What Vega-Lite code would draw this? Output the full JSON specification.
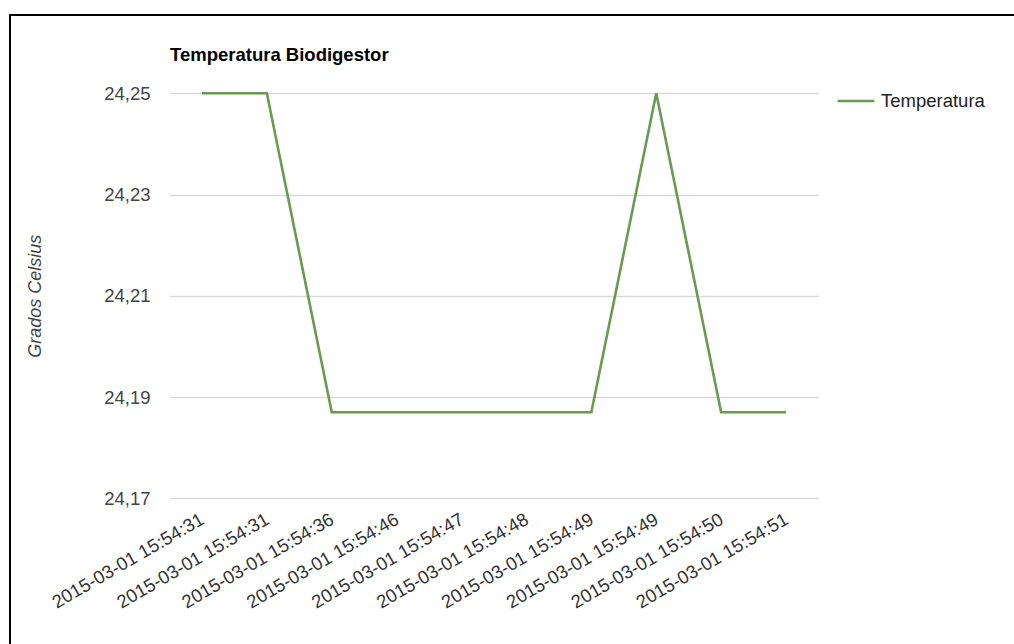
{
  "$schema": "https://vega.github.io/schema/vega-lite/v6.json",
  "width": 1004,
  "height": 629,
  "autosize": {"type": "none"},
  "padding": {"left": 10, "top": 15, "right": 0, "bottom": 0},
  "background": "#ffffff",
  "config": {
    "font": "Liberation Sans",
    "view": {"stroke": "#000000", "strokeWidth": 2, "strokeDash": [1004, 1633, 629]}
  },
  "title": {
    "text": "Temperatura Biodigestor",
    "anchor": "start",
    "frame": "group",
    "fontSize": 18.5,
    "fontWeight": "bold",
    "color": "#000000",
    "offset": 0,
    "baseline": "alphabetic",
    "dx": 160,
    "dy": 64
  },
  "data": {
    "values": [
      {"t": "2015-03-01 15:54:31|a", "v": 24.25, "serie": "Temperatura"},
      {"t": "2015-03-01 15:54:31|b", "v": 24.25, "serie": "Temperatura"},
      {"t": "2015-03-01 15:54:36", "v": 24.187, "serie": "Temperatura"},
      {"t": "2015-03-01 15:54:46", "v": 24.187, "serie": "Temperatura"},
      {"t": "2015-03-01 15:54:47", "v": 24.187, "serie": "Temperatura"},
      {"t": "2015-03-01 15:54:48", "v": 24.187, "serie": "Temperatura"},
      {"t": "2015-03-01 15:54:49|a", "v": 24.187, "serie": "Temperatura"},
      {"t": "2015-03-01 15:54:49|b", "v": 24.25, "serie": "Temperatura"},
      {"t": "2015-03-01 15:54:50", "v": 24.187, "serie": "Temperatura"},
      {"t": "2015-03-01 15:54:51", "v": 24.187, "serie": "Temperatura"}
    ]
  },
  "mark": {"type": "line", "strokeWidth": 2.6},
  "encoding": {
    "x": {
      "field": "t",
      "type": "ordinal",
      "sort": null,
      "scale": {"type": "point", "range": [159.5, 808.5], "padding": 0.5},
      "axis": {
        "title": null,
        "offset": -145.7,
        "domain": false,
        "ticks": false,
        "grid": false,
        "labelAngle": -30,
        "labelAlign": "right",
        "labelBaseline": "middle",
        "labelPadding": 19,
        "labelFontSize": 18.5,
        "labelColor": "#333333",
        "labelOverlap": false,
        "labelExpr": "split(datum.label, '|')[0]"
      }
    },
    "y": {
      "field": "v",
      "type": "quantitative",
      "scale": {"domain": [24.17, 24.25], "range": [483.3, 78.3], "nice": false, "zero": false},
      "axis": {
        "title": "Grados Celsius",
        "values": [24.17, 24.19, 24.21, 24.23, 24.25],
        "offset": -159.5,
        "domain": false,
        "ticks": false,
        "labelPadding": 19.5,
        "labelFontSize": 18.5,
        "labelColor": "#444444",
        "labelExpr": "replace(format(datum.value, '.2f'), '.', ',')",
        "grid": true,
        "gridColor": "#d9d9d9",
        "gridWidth": 1.3,
        "titleFontSize": 18,
        "titleFontStyle": "italic",
        "titleFontWeight": "normal",
        "titleColor": "#444444",
        "titlePadding": 59
      }
    },
    "color": {
      "field": "serie",
      "type": "nominal",
      "scale": {"range": ["#6a9a50"]},
      "legend": {
        "title": null,
        "orient": "none",
        "legendX": 826,
        "legendY": 66,
        "padding": 0,
        "symbolType": "stroke",
        "symbolSize": 1369,
        "symbolStrokeWidth": 2.6,
        "labelFontSize": 18.5,
        "labelColor": "#222222",
        "labelOffset": 5
      }
    }
  }
}
